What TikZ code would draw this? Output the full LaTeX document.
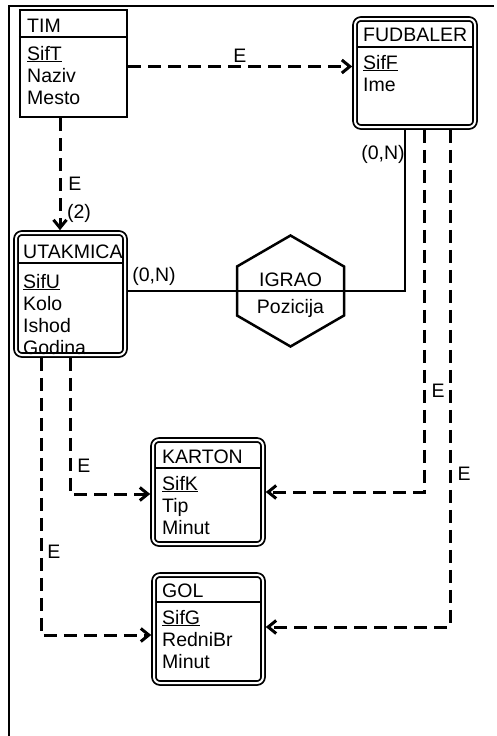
\documentclass[tikz,border=0pt]{standalone}
\usepackage{fontspec}
\setmainfont{Liberation Sans}
\usetikzlibrary{arrows.meta,calc}

\newcommand{\erfont}{\fontsize{19.5pt}{22pt}\selectfont}

\begin{document}
\begin{tikzpicture}[x=1pt, y=-1pt,
  ent/.style={draw, line width=2.5pt, inner sep=0pt, outer sep=1.25pt},
  wkent/.style={draw, line width=1.8pt, double, double distance=2pt,
    rounded corners=6pt, inner sep=0pt, outer sep=2.8pt},
  txt/.style={font=\erfont, inner sep=0pt, anchor=base west},
  attr/.style={txt, align=left},
  lbl/.style={font=\erfont, inner sep=0pt, anchor=base},
  divider/.style={line width=2pt},
  dep/.style={line width=3pt, dash pattern=on 13pt off 7pt,
    -{Straight Barb[length=8pt,width=13pt]}},
  rel/.style={line width=2.5pt},
  frame/.style={line width=2pt}
]
\useasboundingbox (0,0) rectangle (496,736);
\draw[frame] (9,736) -- (9,6) -- (494,6);

% entities
\node[ent, minimum width=107pt, minimum height=107pt] (tim) at (73.5,63.5) {};
\node[wkent, minimum width=120pt, minimum height=108pt] (fud) at (415,73) {};
\node[wkent, minimum width=109pt, minimum height=122pt] (utak) at (70.5,294) {};
\node[wkent, minimum width=110pt, minimum height=104pt] (kart) at (208,492) {};
\node[wkent, minimum width=109pt, minimum height=108pt] (gol) at (208.5,629) {};

\draw[divider] (tim.west |- 0,37) -- (tim.east |- 0,37);
\draw[divider, shorten <=5pt, shorten >=5pt] (fud.west |- 0,47) -- (fud.east |- 0,47);
\draw[divider, shorten <=5pt, shorten >=5pt] (utak.west |- 0,263) -- (utak.east |- 0,263);
\draw[divider, shorten <=5pt, shorten >=5pt] (kart.west |- 0,468) -- (kart.east |- 0,468);
\draw[divider, shorten <=5pt, shorten >=5pt] (gol.west |- 0,602) -- (gol.east |- 0,602);

% text: attribute nodes sit on the baseline of their last line
\node[txt] (timT) at (27,32) {TIM};
\node[attr] (timA) at (27,104) {\underline{SifT}\\Naziv\\Mesto};
\node[txt] (fudT) at (363,41) {FUDBALER};
\node[attr] (fudA) at (363,91) {\underline{SifF}\\Ime};
\node[txt] (utakT) at (23,258) {UTAKMICA};
\node[attr] (utakA) at (23,354) {\underline{SifU}\\Kolo\\Ishod\\Godina};
\node[txt] (kartT) at (162,463) {KARTON};
\node[attr] (kartA) at (162,534) {\underline{SifK}\\Tip\\Minut};
\node[txt] (golT) at (162,597) {GOL};
\node[attr] (golA) at (162,668) {\underline{SifG}\\RedniBr\\Minut};

% relationship
\node[minimum width=107pt, minimum height=49pt, inner sep=0pt, outer sep=0pt] (igrao) at (290.5,291) {};
\draw[rel] (igrao.south west) -- (igrao.north west) -- ($(igrao.north)+(0,-31)$)
  -- (igrao.north east) -- (igrao.south east) -- ($(igrao.south)+(0,31)$) -- cycle;
\node[lbl] (igraoT) at (290.5,286) {IGRAO};
\node[lbl] (igraoA) at (290.5,313) {Pozicija};
\draw[rel] (igrao.west -| utak.east) -- (igrao.west) -- (igrao.east)
  -| ([xshift=-10pt]fud.south);
\node[lbl] (cardU) at (154,281) {(0,N)};
\node[lbl] (cardF) at (383,159) {(0,N)};

% dependencies
\draw[dep] ([yshift=-3pt]tim.east) -- ([yshift=-3pt]tim.east -| fud.west);
\node[lbl] (e1) at (240,62) {E};
\draw[dep] ([xshift=-13.5pt]tim.south) -- ([xshift=-13.5pt]tim.south |- utak.north);
\node[lbl] (e2) at (75,190) {E};
\node[lbl] (card2) at (79,218) {(2)};
\draw[dep] ([xshift=9pt]fud.south) |- (kart.east);
\node[lbl] (e3) at (438,397) {E};
\draw[dep] ([xshift=35pt]fud.south) |- ([yshift=2pt]gol.east);
\node[lbl] (e4) at (464,480) {E};
\draw[dep] (utak.south) |- ([yshift=-2pt]kart.west);
\node[lbl] (e5) at (84,472) {E};
\draw[dep] ([xshift=-29.5pt]utak.south) |- ([yshift=-6pt]gol.west);
\node[lbl] (e6) at (54,558) {E};
\end{tikzpicture}
\end{document}
